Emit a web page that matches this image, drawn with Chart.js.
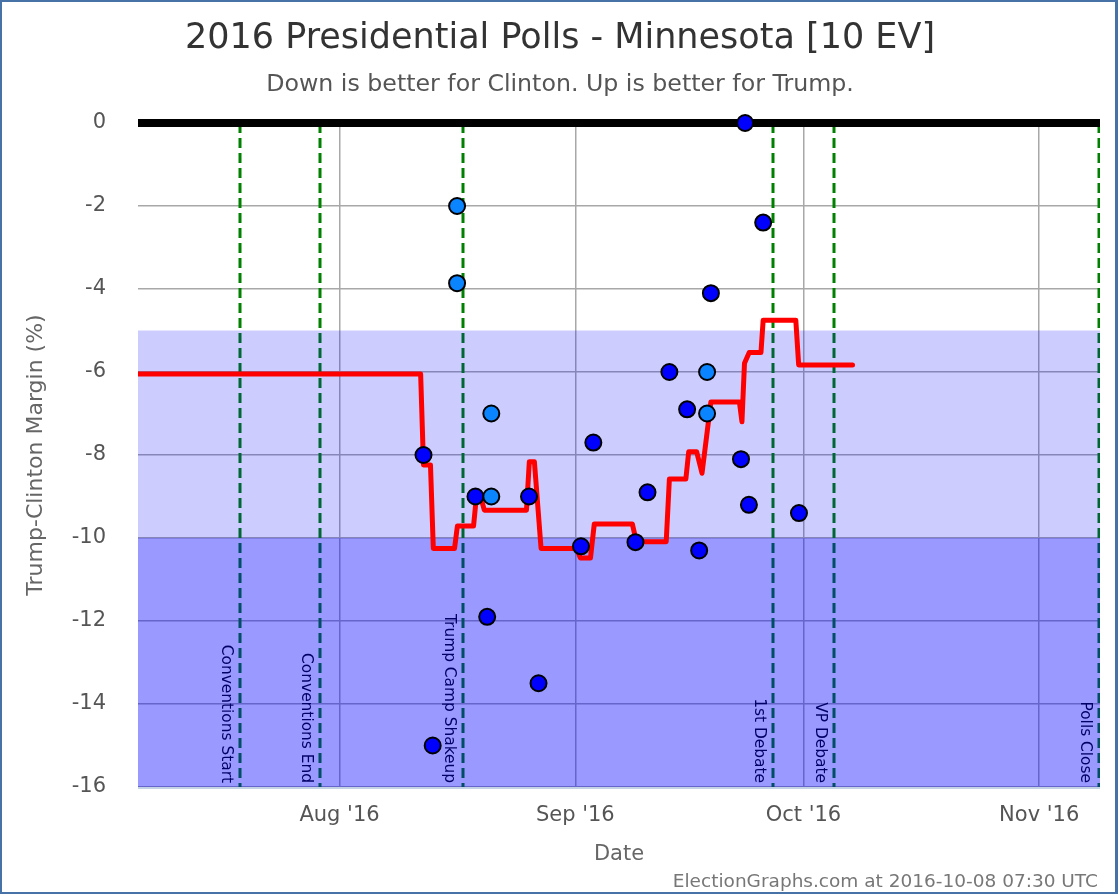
<!DOCTYPE html>
<html>
<head>
<meta charset="utf-8">
<script src="https://cdn.jsdelivr.net/npm/chart.js@4.4.1/dist/chart.umd.min.js"></script>
<style>
html,body{margin:0;padding:0;background:#fff;}
canvas{display:block;}
</style>
</head>
<body>
<canvas id="c" width="1120" height="896"></canvas>
<script>
// ---------- text ----------
const TITLE = "2016 Presidential Polls - Minnesota [10 EV]";
const SUBTITLE = "Down is better for Clinton. Up is better for Trump.";
const FOOTER = "ElectionGraphs.com at 2016-10-08 07:30 UTC";
const X_TITLE = "Date";
const Y_TITLE = "Trump-Clinton Margin (%)";

// ---------- axes ----------
const X_RANGE = ["2016-07-05 12", "2016-11-09 00"];
const X_TICK_DATES = ["2016-08-01", "2016-09-01", "2016-10-01", "2016-11-01"];
const X_TICK_LABELS = ["Aug '16", "Sep '16", "Oct '16", "Nov '16"];
const Y_MIN = -16, Y_MAX = 0;
const Y_TICKS = [0, -2, -4, -6, -8, -10, -12, -14, -16];

// ---------- bands (margin thresholds) ----------
const BAND_LIGHT = [-5, -10];
const BAND_DARK = [-10, -16];

// ---------- poll average (red line) ----------
const avgDates = [
  "2016-07-05 12", "2016-08-11 16", "2016-08-12 01", "2016-08-12 23", "2016-08-13 08",
  "2016-08-16 03", "2016-08-16 12", "2016-08-18 15", "2016-08-19 00", "2016-08-19 13",
  "2016-08-20 01", "2016-08-25 14", "2016-08-25 23", "2016-08-26 15", "2016-08-27 12",
  "2016-09-01 04", "2016-09-01 16", "2016-09-03 00", "2016-09-03 12", "2016-09-08 12",
  "2016-09-09 01", "2016-09-12 23", "2016-09-13 09", "2016-09-15 13", "2016-09-15 22",
  "2016-09-16 23", "2016-09-17 16", "2016-09-18 20", "2016-09-22 14", "2016-09-22 22",
  "2016-09-23 06", "2016-09-23 21", "2016-09-25 10", "2016-09-25 17", "2016-09-30 00",
  "2016-09-30 09", "2016-10-07 11"
];
const avgValues = [
  -6.05, -6.05, -8.24, -8.24, -10.25,
  -10.25, -9.71, -9.71, -9.0, -9.0,
  -9.33, -9.33, -8.16, -8.16, -10.25,
  -10.25, -10.48, -10.48, -9.66, -9.66,
  -10.09, -10.09, -8.58, -8.58, -7.92,
  -7.92, -8.44, -6.72, -6.72, -7.2,
  -5.79, -5.53, -5.53, -4.75, -4.75,
  -5.83, -5.83
];

// ---------- individual polls ----------
const pollDates = [
  "2016-08-12 01", "2016-08-13 06", "2016-08-16 11", "2016-08-16 11", "2016-08-18 21",
  "2016-08-20 10", "2016-08-20 23", "2016-08-20 23", "2016-08-25 22", "2016-08-27 04",
  "2016-09-01 18", "2016-09-03 09", "2016-09-08 22", "2016-09-10 12", "2016-09-13 09",
  "2016-09-15 17", "2016-09-17 07", "2016-09-18 08", "2016-09-18 08", "2016-09-18 20",
  "2016-09-22 19", "2016-09-23 08", "2016-09-23 20", "2016-09-25 17", "2016-09-30 10"
];
const pollValues = [
  -8.0, -15.0, -2.0, -3.86, -9.0,
  -11.9, -7.0, -9.0, -9.0, -13.5,
  -10.2, -7.7, -10.1, -8.9, -6.0,
  -6.9, -10.3, -6.0, -7.0, -4.1,
  -8.1, 0.0, -9.2, -2.4, -9.4
];
// "single" = single poll, "partial" = one of several results from the same poll
const pollKinds = [
  "single", "single", "partial", "partial", "single",
  "single", "partial", "partial", "single", "single",
  "single", "single", "single", "single", "single",
  "single", "single", "partial", "partial", "single",
  "single", "single", "single", "single", "single"
];

// ---------- events ----------
const eventDates = ["2016-07-18 21", "2016-07-29 09", "2016-08-17 06", "2016-09-27 01", "2016-10-04 23", "2016-11-08 22"];
const eventLabels = ["Conventions Start", "Conventions End", "Trump Camp Shakeup", "1st Debate", "VP Debate", "Polls Close"];

// ---------- helpers ----------
const EPOCH = Date.UTC(2016, 7, 1);
function dayNum(s) {
  const [d, h] = s.split(" ");
  const [Y, M, D] = d.split("-").map(Number);
  return (Date.UTC(Y, M - 1, D, h ? Number(h) : 0) - EPOCH) / 86400000;
}
const FONT = '"DejaVu Sans", "Noto Sans", sans-serif';
const tickDays = X_TICK_DATES.map(dayNum);

const overlay = {
  id: "overlay",
  beforeDatasetsDraw(chart) {
    const { ctx, chartArea: a, scales: { x, y } } = chart;
    ctx.save();
    ctx.beginPath();
    ctx.rect(a.left, a.top, a.right - a.left, a.bottom - a.top);
    ctx.clip();
    // event lines
    ctx.strokeStyle = "#008000";
    ctx.lineWidth = 3;
    ctx.setLineDash([10, 5]);
    eventDates.forEach(d => {
      const px = Math.round(x.getPixelForValue(dayNum(d)));
      ctx.beginPath();
      ctx.moveTo(px, a.top);
      ctx.lineTo(px, a.bottom);
      ctx.stroke();
    });
    ctx.setLineDash([]);
    // event labels
    ctx.fillStyle = "#000";
    ctx.font = "15.4px " + FONT;
    ctx.textAlign = "right";
    ctx.textBaseline = "alphabetic";
    eventDates.forEach((d, i) => {
      const px = x.getPixelForValue(dayNum(d));
      ctx.save();
      ctx.translate(px - 18, a.bottom - 4);
      ctx.rotate(Math.PI / 2);
      ctx.fillText(eventLabels[i], 0, 0);
      ctx.restore();
    });
    // bands (semi-transparent, over grid and events)
    const yl1 = y.getPixelForValue(BAND_LIGHT[0]), yl2 = y.getPixelForValue(BAND_LIGHT[1]);
    ctx.fillStyle = "rgba(0,0,255,0.2)";
    ctx.fillRect(a.left, yl1, a.right - a.left, yl2 - yl1);
    const yd1 = y.getPixelForValue(BAND_DARK[0]), yd2 = y.getPixelForValue(BAND_DARK[1]);
    ctx.fillStyle = "rgba(0,0,255,0.4)";
    ctx.fillRect(a.left, yd1, a.right - a.left, yd2 - yd1);
    ctx.restore();
    // bottom axis line
    ctx.save();
    ctx.strokeStyle = "#c4d4e6";
    ctx.lineWidth = 2;
    ctx.beginPath();
    ctx.moveTo(a.left, a.bottom + 1);
    ctx.lineTo(a.right, a.bottom + 1);
    ctx.stroke();
    // zero line
    const y0 = y.getPixelForValue(0);
    ctx.strokeStyle = "#000";
    ctx.lineWidth = 8;
    ctx.beginPath();
    ctx.moveTo(a.left, y0);
    ctx.lineTo(a.right, y0);
    ctx.stroke();
    ctx.restore();
  },
  afterDraw(chart) {
    const { ctx } = chart;
    ctx.save();
    ctx.textAlign = "center";
    ctx.textBaseline = "alphabetic";
    ctx.fillStyle = "#333";
    ctx.font = "35px " + FONT;
    ctx.fillText(TITLE, 560, 47.5);
    ctx.fillStyle = "#555";
    ctx.font = "23.7px " + FONT;
    ctx.fillText(SUBTITLE, 560, 90.5);
    ctx.fillStyle = "#777";
    ctx.font = "18.5px " + FONT;
    ctx.textAlign = "right";
    ctx.fillText(FOOTER, 1098, 887);
    // frame
    ctx.fillStyle = "#4672a8";
    ctx.fillRect(0, 0, 1118, 2);
    ctx.fillRect(0, 0, 2, 894);
    ctx.fillRect(1115, 0, 3, 894);
    ctx.fillRect(0, 892, 1118, 2);
    ctx.restore();
  }
};

Chart.defaults.font.family = FONT;

new Chart(document.getElementById("c"), {
  type: "line",
  data: {
    datasets: [
      {
        label: "Polls",
        type: "scatter",
        data: pollDates.map((d, i) => ({ x: dayNum(d), y: pollValues[i] })),
        showLine: false,
        pointRadius: 8,
        pointBorderWidth: 2,
        pointBorderColor: "#000",
        pointBackgroundColor: pollKinds.map(k => k === "partial" ? "#0a84ff" : "#0000ff"),
        clip: false,
        order: 0
      },
      {
        label: "Average",
        data: avgDates.map((d, i) => ({ x: dayNum(d), y: avgValues[i] })),
        borderColor: "#ff0000",
        borderWidth: 5,
        borderCapStyle: "round",
        borderJoinStyle: "round",
        pointRadius: 0,
        tension: 0,
        fill: false,
        order: 1
      }
    ]
  },
  options: {
    responsive: false,
    animation: false,
    devicePixelRatio: 1,
    layout: { padding: { top: 123, left: 2, right: 20, bottom: 0 } },
    plugins: { legend: { display: false }, title: { display: false }, tooltip: { enabled: false } },
    scales: {
      x: {
        type: "linear",
        min: dayNum(X_RANGE[0]),
        max: dayNum(X_RANGE[1]),
        afterBuildTicks(s) { s.ticks = tickDays.map(v => ({ value: v })); },
        afterFit(s) { s.height = 109; },
        grid: { color: "#a8a8a8", lineWidth: 1.5, drawTicks: false },
        border: { display: false },
        ticks: {
          autoSkip: false, maxRotation: 0, padding: 16.4,
          font: { size: 21 }, color: "#555",
          callback: v => X_TICK_LABELS[tickDays.indexOf(v)]
        },
        title: { display: true, text: X_TITLE, font: { size: 21 }, color: "#666", padding: { top: 0, bottom: 29 } }
      },
      y: {
        min: Y_MIN,
        max: Y_MAX,
        afterBuildTicks(s) { s.ticks = Y_TICKS.map(v => ({ value: v })); },
        afterFit(s) { s.width = 136; },
        grid: { color: "#a8a8a8", lineWidth: 1.5, drawTicks: false },
        border: { display: false },
        ticks: { padding: 32, font: { size: 21 }, color: "#555", callback: v => String(v) },
        title: { display: true, text: Y_TITLE, font: { size: 22 }, color: "#666", padding: { top: 21, bottom: 0 } }
      }
    }
  },
  plugins: [overlay]
});
</script>
</body>
</html>
